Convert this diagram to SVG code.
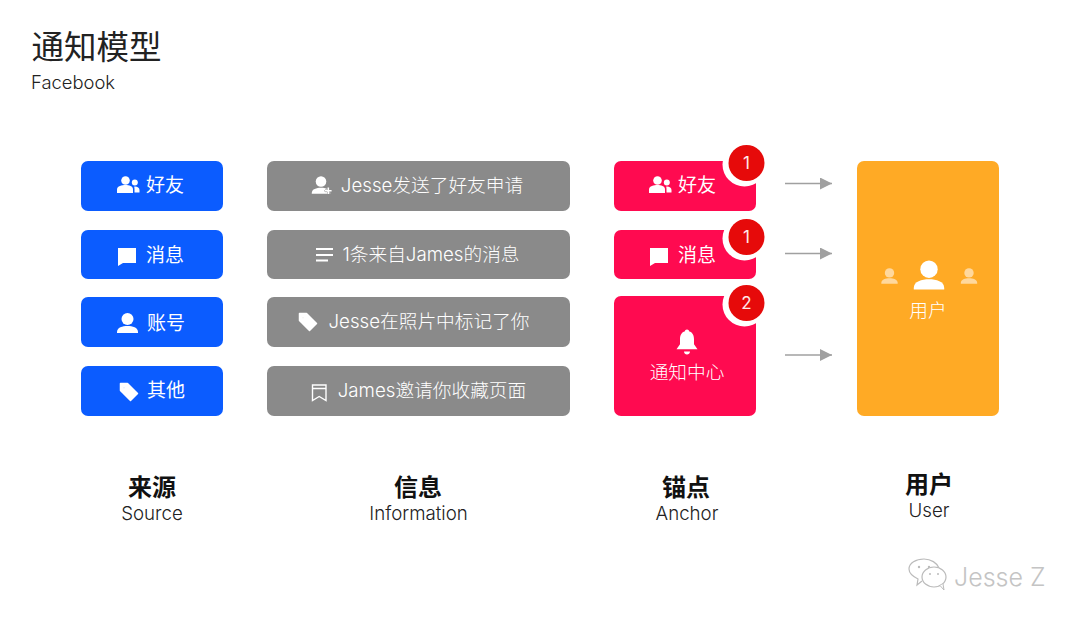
<svg xmlns="http://www.w3.org/2000/svg" width="1080" height="621" viewBox="0 0 1080 621">
<style>
text{font-family:"Inter","Noto Sans CJK SC",sans-serif;}
.t{fill:#fff;font-size:19px;text-anchor:middle;}
.i{fill:#fff;font-size:18.700px;text-anchor:middle;font-weight:300;}
.b{fill:#0b5cff}.g{fill:#8a8a8a}.p{fill:#ff0a50}.o{fill:#ffaa25}
.h{fill:#111;font-size:24px;font-weight:700;text-anchor:middle;font-family:"Noto Sans CJK SC",sans-serif;}
.s{fill:#222;font-size:18.700px;text-anchor:middle;font-weight:300;}
.n{fill:#ffe9e9;font-size:17px;text-anchor:middle;}
.ic{fill:#fff}
.conn{stroke:#a0a0a0;stroke-width:1.400;fill:none;marker-end:url(#ah)}
</style>
<defs>
<marker id="ah" markerUnits="userSpaceOnUse" markerWidth="13" markerHeight="12" refX="12" refY="6" orient="auto"><path d="M0 0L12 6L0 12Z" fill="#a0a0a0"/></marker>
<g id="users"><circle cx="-2.500" cy="-4.500" r="4.300"/><path d="M-11 8V4.500C-11 1-6 0-2.500 0S5 1 5 4.500V8Z"/><circle cx="6.800" cy="-2.500" r="3"/><path d="M7 1.500C9.500 1.500 11.500 3 11.500 5V7.500H6.500V4.500C6.500 3.500 6.500 2.500 6 1.800Z"/></g>
<path id="chat" d="M-9-8H9V7H-4L-9 10Z"/>
<g id="user"><circle cx="0" cy="-4" r="6"/><path d="M-10.500 9C-10.500 4.500-5 3-0 3S10.500 4.500 10.500 9V10H-10.500Z"/></g>
<path id="tag" fill-rule="evenodd" stroke="#fff" stroke-width="1.500" stroke-linejoin="round" d="M-8.500-7.500H-1.500L8.500 2.500 1.500 9.500-8.500-.5ZM-5-4.800a1 1 0 1 0 .01 0Z"/>
</defs>

<g id="title">
<text x="31.500" y="59" style="font-size:32.500px;fill:#222">通知模型</text>
<text x="31" y="89" style="font-size:18.400px;fill:#222;font-weight:300">Facebook</text>
</g>

<g id="connectors">
<path class="conn" d="M785 183.500H832"/>
<path class="conn" d="M785 253.500H832"/>
<path class="conn" d="M785 355H832"/>
</g>

<g id="source-friends"><rect class="b" x="81" y="161" width="142" height="50" rx="7"/><use href="#users" x="128" y="185" class="ic"/><text class="t" x="165" y="192">好友</text></g>
<g id="source-message"><rect class="b" x="81" y="230" width="142" height="49" rx="7"/><use href="#chat" x="127" y="256" class="ic"/><text class="t" x="165" y="262">消息</text></g>
<g id="source-account"><rect class="b" x="81" y="297" width="142" height="50" rx="7"/><use href="#user" x="127.500" y="323" class="ic"/><text class="t" x="166" y="330">账号</text></g>
<g id="source-other"><rect class="b" x="81" y="366" width="142" height="50" rx="7"/><use href="#tag" x="129" y="391" class="ic"/><text class="t" x="166" y="397">其他</text></g>

<g id="info-friend"><rect class="g" x="267" y="161" width="303" height="50" rx="7"/><use href="#user" transform="translate(321 185) scale(.88)" class="ic"/><path class="ic" stroke="#8a8a8a" stroke-width="1" paint-order="stroke" d="M327.500 187.500h1.600v2.500h2.500v1.600h-2.500v2.500h-1.600v-2.500H325v-1.600h2.500Z"/><text class="i" x="432" y="192">Jesse发送了好友申请</text></g>
<g id="info-message"><rect class="g" x="267" y="230" width="303" height="49" rx="7"/><path d="M316 249H333M316 255H333M316 260.500H328" stroke="#fff" stroke-width="2" fill="none"/><text class="i" x="431" y="261">1条来自James的消息</text></g>
<g id="info-tag"><rect class="g" x="267" y="297" width="303" height="50" rx="7"/><use href="#tag" x="308" y="321" class="ic"/><text class="i" x="429" y="328">Jesse在照片中标记了你</text></g>
<g id="info-page"><rect class="g" x="267" y="366" width="303" height="50" rx="7"/><path d="M312.500 385H326V400.500L319.200 396.500 312.500 400.500ZM312.500 388.500H326" fill="none" stroke="#fff" stroke-width="1.400"/><text class="i" x="432" y="397">James邀请你收藏页面</text></g>

<g id="anchor-friends"><rect class="p" x="614" y="161" width="142" height="50" rx="7"/><use href="#users" x="660" y="185" class="ic"/><text class="t" x="697" y="192">好友</text><circle cx="744.500" cy="164.500" r="22" fill="#fff"/><circle cx="746.500" cy="163" r="18" fill="#e60a0a"/><text class="n" x="746.500" y="169">1</text></g>
<g id="anchor-message"><rect class="p" x="614" y="230" width="142" height="49" rx="7"/><use href="#chat" x="659" y="256" class="ic"/><text class="t" x="697" y="262">消息</text><circle cx="744.500" cy="238.500" r="22" fill="#fff"/><circle cx="746.500" cy="237" r="18" fill="#e60a0a"/><text class="n" x="746.500" y="243">1</text></g>
<g id="anchor-center"><rect class="p" x="614" y="296" width="142" height="120" rx="7"/><path class="ic" d="M687 329.500c1.300 0 2 .8 2 1.800 3.500 1 5 4 5 8v5l3.500 5H676.500l3.500-5v-5c0-4 1.500-7 5-8 0-1 .7-1.800 2-1.800ZM684 351.500h6c0 4-6 4-6 0Z"/><text class="i" x="687" y="379">通知中心</text><circle cx="744.500" cy="304.500" r="22" fill="#fff"/><circle cx="746.500" cy="303" r="18" fill="#e60a0a"/><text class="n" x="746.500" y="309">2</text></g>

<g id="user-box"><rect class="o" x="857" y="161" width="142" height="255" rx="7"/>
<use href="#user" transform="translate(929 275) scale(1.450)" class="ic"/>
<use href="#user" transform="translate(889.500 276) scale(.78)" class="ic" opacity=".55"/>
<use href="#user" transform="translate(969 276) scale(.78)" class="ic" opacity=".55"/>
<text class="i" x="928" y="317">用户</text></g>

<g id="col-source"><text class="h" x="152" y="496">来源</text><text class="s" x="152" y="520">Source</text></g>
<g id="col-info"><text class="h" x="418" y="496">信息</text><text class="s" x="418.500" y="520">Information</text></g>
<g id="col-anchor"><text class="h" x="686" y="496">锚点</text><text class="s" x="687" y="520">Anchor</text></g>
<g id="col-user"><text class="h" x="929" y="493">用户</text><text class="s" x="929" y="517">User</text></g>

<g id="watermark">
<path d="M922 581L917 585 918 579C912 576 909 572 909 569 909 563 916 559 924 559 931 559 937 563 939 568" fill="#fff" stroke="#bbb" stroke-width="1.200"/>
<circle cx="919" cy="567" r="1.200" fill="#bbb"/><circle cx="929" cy="567" r="1.200" fill="#bbb"/>
<ellipse cx="934" cy="577" rx="12" ry="10" fill="#fff" stroke="#bbb" stroke-width="1.200"/>
<path d="M940 585.500L944 590 943 584" fill="#fff" stroke="#bbb" stroke-width="1"/>
<circle cx="930" cy="574" r="1" fill="#bbb"/><circle cx="938" cy="574" r="1" fill="#bbb"/>
<text x="954" y="586" style="font-size:25px;fill:#c4c4c4;font-weight:300">Jesse Z</text>
</g>
</svg>
